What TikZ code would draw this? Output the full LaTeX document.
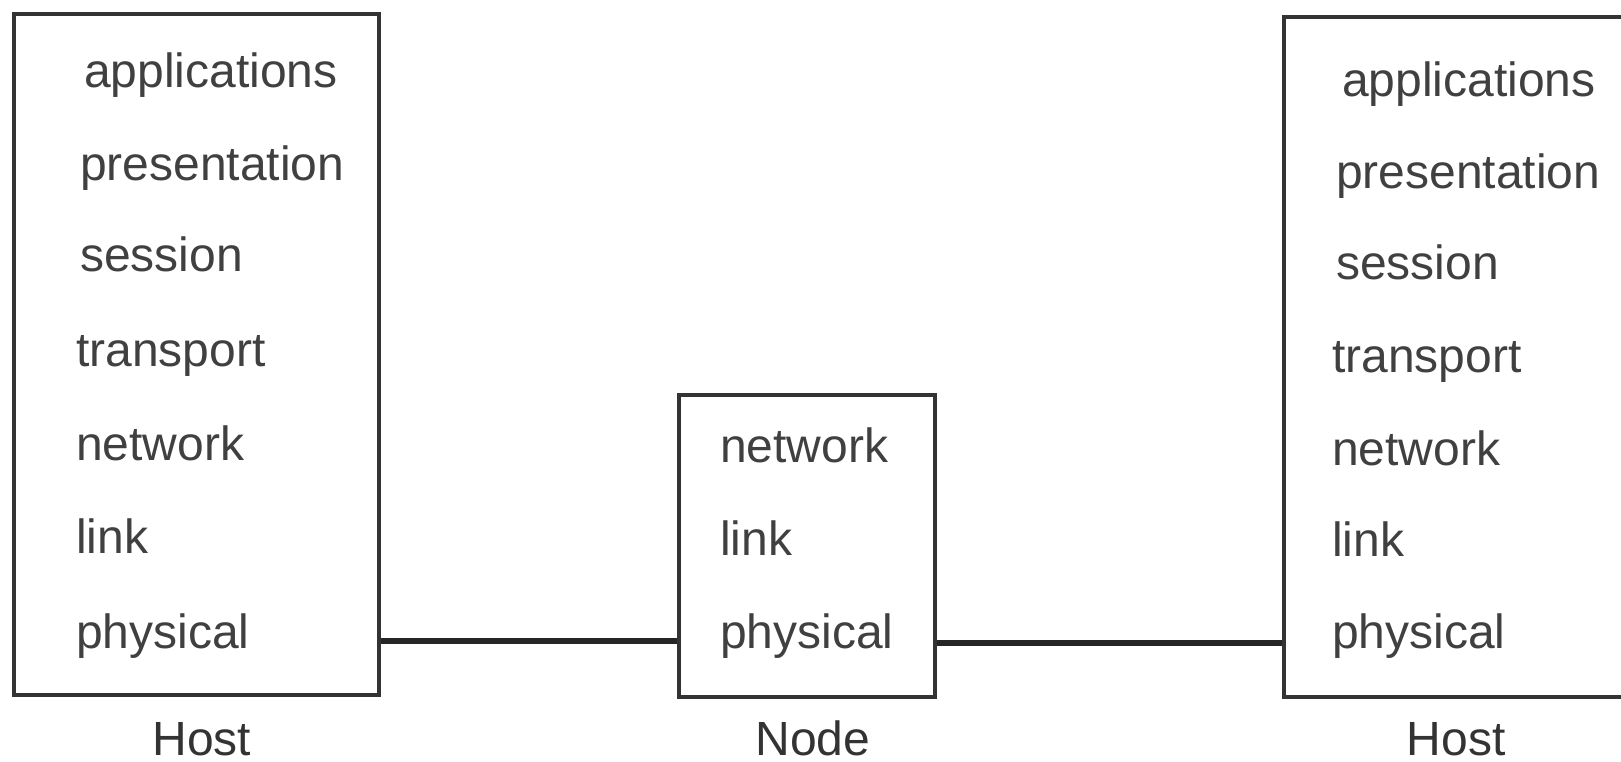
\documentclass[tikz,border=0pt]{standalone}
\usepackage{fontspec}
\setmainfont{Liberation Sans}
\begin{document}
\begin{tikzpicture}[x=1pt,y=-1pt,
  box/.style={draw=black!80,line width=4pt,rectangle,inner sep=0pt,anchor=north west},
  lay/.style={anchor=mid west,inner sep=0pt,yshift=-13pt,font=\fontsize{48}{52}\selectfont,text=black!75},
  boxlabel/.style={anchor=mid,inner sep=0pt,yshift=-12pt,font=\fontsize{48}{52}\selectfont,text=black!80},
  wire/.style={draw=black!85,line width=6pt}]
\useasboundingbox (0,0) rectangle (1621,761);
% boxes
\node[box,minimum width=365pt,minimum height=681pt] (hl) at (12,12) {};
\node[box,minimum width=256pt,minimum height=302pt] (nd) at (677,393) {};
\node[box,minimum width=400pt,minimum height=680pt] (hr) at (1282,15) {};
% left host layers
\node[lay] (l1) at (84,72) {applications};
\node[lay] (l2) at (80,165) {presentation};
\node[lay] (l3) at (80,256) {session};
\node[lay] (l4) at (76,351) {transport};
\node[lay] (l5) at (76,445) {network};
\node[lay] (l6) at (76,538) {link};
\node[lay] (l7) at (76,633) {physical};
% node layers
\node[lay] (n1) at (720,447) {network};
\node[lay] (n2) at (720,540) {link};
\node[lay] (n3) at (720,633) {physical};
% right host layers
\node[lay] (r1) at (1342,81) {applications};
\node[lay] (r2) at (1336,173) {presentation};
\node[lay] (r3) at (1336,264) {session};
\node[lay] (r4) at (1332,357) {transport};
\node[lay] (r5) at (1332,450) {network};
\node[lay] (r6) at (1332,541) {link};
\node[lay] (r7) at (1332,633) {physical};
% captions
\node[boxlabel] (c1) at (202,741) {Host};
\node[boxlabel] (c2) at (813,741) {Node};
\node[boxlabel] (c3) at (1456,741) {Host};
% wires
\draw[wire] (hl.east |- 0,641) -- (nd.west |- 0,641);
\draw[wire] (nd.east |- 0,643) -- (hr.west |- 0,643);
\end{tikzpicture}
\end{document}
